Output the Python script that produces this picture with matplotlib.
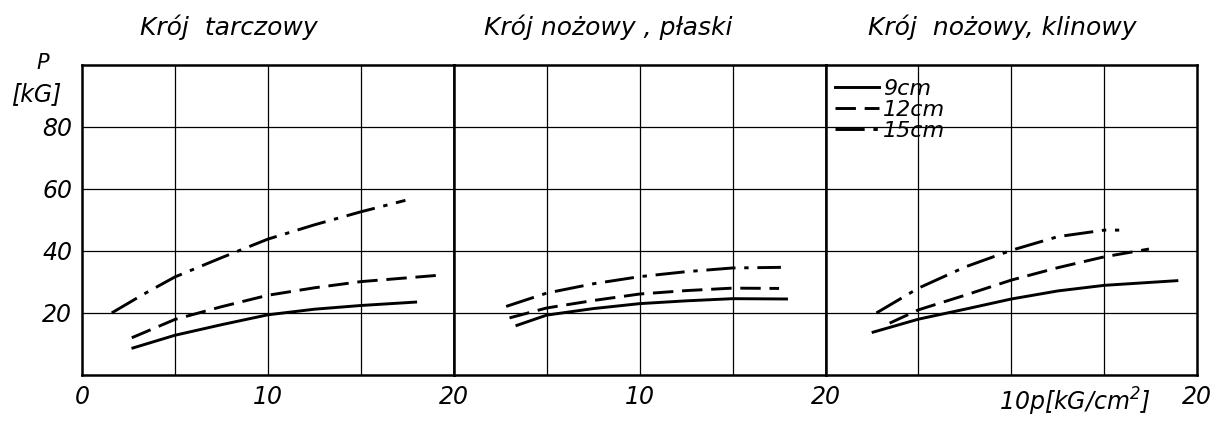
import matplotlib.pyplot as plt

plt.rcParams['font.family'] = ['DejaVu Sans']
plt.rcParams['font.style'] = 'italic'

titles = ['Krój  tarczowy', 'Krój nożowy , płaski', 'Krój  nożowy, klinowy']
title_x = [7.9, 8.3, 9.5]
labels = ['9cm', '12cm', '15cm']

# pressure p [kG/cm2] and force P [kG] per cutter type and depth
x_9 = [[2.74, 5.0, 7.5, 10.0, 12.5, 15.0, 17.95],
       [3.4, 5.0, 7.5, 10.0, 12.5, 15.0, 17.9],
       [2.56, 5.0, 7.5, 10.0, 12.5, 15.0, 18.9]]
y_9 = [[8.7, 12.8, 16.2, 19.4, 21.2, 22.4, 23.5],
       [16.0, 19.3, 21.4, 23.0, 23.9, 24.6, 24.5],
       [13.8, 18.0, 21.2, 24.5, 27.1, 28.9, 30.4]]

x_12 = [[2.68, 5.0, 7.5, 10.0, 12.5, 15.0, 19.1],
        [3.0, 5.0, 7.5, 10.0, 12.5, 15.0, 17.5],
        [3.45, 5.0, 7.5, 10.0, 12.5, 15.0, 17.4]]
y_12 = [[12.0, 17.9, 22.0, 25.7, 28.1, 30.1, 32.1],
        [18.4, 21.6, 24.0, 26.1, 27.2, 28.0, 27.9],
        [16.7, 21.0, 25.7, 30.6, 34.6, 38.1, 40.6]]

x_15 = [[1.6, 3.3, 5.0, 7.5, 10.0, 12.5, 15.0, 17.4],
        [2.82, 5.0, 7.5, 10.0, 12.5, 15.0, 17.6],
        [2.74, 5.0, 7.5, 10.0, 12.5, 15.0, 15.8]]
y_15 = [[20.0, 26.0, 31.6, 37.8, 43.8, 48.4, 52.6, 56.3],
        [22.1, 26.4, 29.4, 31.7, 33.3, 34.5, 34.7],
        [20.0, 28.0, 34.8, 40.2, 44.6, 46.7, 46.7]]

fig, axes = plt.subplots(1, 3, figsize=(12.18, 4.32), dpi=100, sharey=True)
fig.subplots_adjust(left=0.0673, right=0.983, bottom=0.132, top=0.850, wspace=0)

styles = ['-', (0, (7, 3)), (0, (10, 3, 1.5, 3))]

for i, ax in enumerate(axes):
    ax.set_xlim(0, 20)
    ax.set_ylim(0, 100)
    for gx in (5, 10, 15):
        ax.axvline(gx, color='k', lw=0.9)
    for gy in (20, 40, 60, 80):
        ax.axhline(gy, color='k', lw=0.9)
    for s in ax.spines.values():
        s.set_linewidth(1.8)
    l1, = ax.plot(x_9[i], y_9[i], color='k', lw=2.1, ls=styles[0])
    l2, = ax.plot(x_12[i], y_12[i], color='k', lw=2.1, ls=styles[1])
    l3, = ax.plot(x_15[i], y_15[i], color='k', lw=2.1, ls=styles[2])
    ax.tick_params(length=0, labelsize=17, pad=7)
    ax.text(title_x[i], 108, titles[i], ha='center', va='bottom', fontsize=18)

axes[0].set_xticks([0, 10, 20])
axes[0].set_xticklabels(['0', '10', '20'])
axes[1].set_xticks([10, 20])
axes[1].set_xticklabels(['10', '20'])
axes[2].set_xticks([20])
axes[2].set_xticklabels(['20'])
axes[2].text(9.35, -0.035, '10p[kG/cm$^2$]', transform=axes[2].get_xaxis_transform(),
             ha='left', va='top', fontsize=17)

axes[0].set_yticks([20, 40, 60, 80])
axes[0].set_yticklabels(['20', '40', '60', '80'])
fig.text(0.035, 0.855, 'P', ha='center', va='center', fontsize=15)
fig.text(0.030, 0.782, '[kG]', ha='center', va='center', fontsize=17)

axes[2].legend([l1, l2, l3], labels, loc='upper left', bbox_to_anchor=(-0.005, 0.99),
               frameon=False, fontsize=16, handlelength=2.0, handletextpad=0.15,
               labelspacing=0.05, borderaxespad=0.1)

fig.savefig('out.png', dpi=100)
